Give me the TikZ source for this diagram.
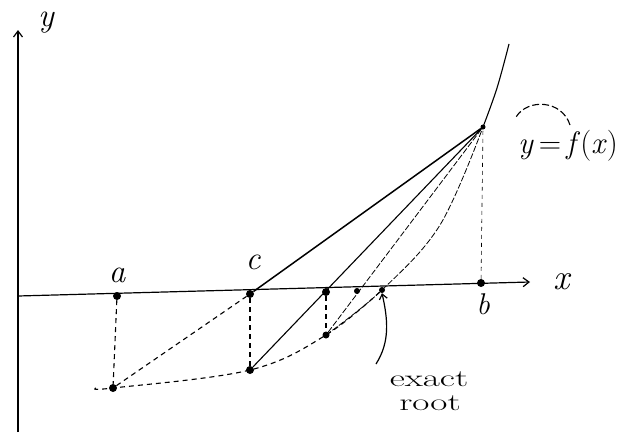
\documentclass[tikz,border=0pt]{standalone}
\usepackage{graphicx}
\usetikzlibrary{arrows.meta}
\begin{document}
\begin{tikzpicture}[x=1pt,y=-1pt,
  dot/.style={circle,fill=black,inner sep=0pt,minimum size=8pt},
  lbl/.style={inner sep=0pt,font=\fontsize{33}{35}\selectfont\itshape},
  small/.style={inner sep=0pt,anchor=base,font=\fontsize{24}{26}\selectfont},
  axis/.style={line width=1.2pt,-{Straight Barb[length=6pt,width=9pt]}},
  guide/.style={line width=1.1pt,dash pattern=on 5pt off 4pt},
  chord/.style={line width=1.1pt},
  thinc/.style={line width=0.8pt,dash pattern=on 6pt off 2pt}]
\useasboundingbox (0,0) rectangle (621,439);
% axes
\coordinate (yb) at (18,432);
\coordinate (yt) at (18,30);
\coordinate (xo) at (18,296);
\coordinate (xe) at (530,282);
\draw[axis] (yb) -- (yt);
\draw[axis] (xo) -- (xe);
\node[lbl,anchor=base] (ylab) at (46,26) {y};
\node[lbl,font=\fontsize{36}{38}\selectfont\itshape] (xlab) at (562,282) {x};
% points on axis
\node[dot] (A) at (117,296) {};
\node[dot] (C) at (250,294) {};
\node[dot] (X2) at (326,292) {};
\node[dot,minimum size=6pt] (X3) at (357,291) {};
\node[dot,minimum size=6pt] (R) at (382,290) {};
\node[dot] (B) at (481,283) {};
\node[lbl] (alab) at (117,275) {a};
\node[lbl] (clab) at (253,262) {c};
\node[lbl,font=\fontsize{30}{32}\selectfont\itshape] (blab) at (483,304) {b};
% points on curve
\node[dot] (Pa) at (113,388) {};
\node[dot] (Pc) at (250,370) {};
\node[dot,minimum size=7pt] (Pd) at (326,335) {};
\node[dot,minimum size=5pt] (Pb) at (483,127) {};
% curve
\draw[guide] plot[smooth,tension=0.6] coordinates {(96,388) (113,388) (250,370) (326,335) (382,290)};
\draw[thinc] plot[smooth,tension=0.6] coordinates {(326,335) (382,290) (440,225) (483,127)};
\draw[line width=1.1pt] plot[smooth,tension=0.6] coordinates {(483,127) (497,88) (509,44)};
% verticals
\draw[guide] (A) -- (Pa);
\draw[guide] (C) -- (Pc);
\draw[guide] (X2) -- (Pd);
\draw[line width=0.6pt,dash pattern=on 4pt off 4pt] (B) -- (Pb);
% chords
\draw[guide] (Pa) -- (C);
\draw[chord,line width=1.5pt] (C) -- (Pb);
\draw[chord] (Pc) -- (Pb);
\draw[thinc] (Pd) -- (Pb);
% exact root
\coordinate (arrS) at (376,364);
\draw[line width=1.2pt,-{Straight Barb[length=5pt,width=8pt]}] (arrS) .. controls (390,342) and (388,320) .. (R.south);
\node[small] (ex) at (429,386) {\scalebox{1.55}[1]{exact}};
\node[small] (ro) at (430,410) {\scalebox{1.55}[1]{root}};
% y = f(x)
\node[lbl,font=\fontsize{31}{33}\selectfont] (flab) at (568,146) {\textit{y}\,=\,\textit{f}(\textit{x})};
\coordinate (fa) at (570,125);
\coordinate (fb) at (516,117);
\draw[line width=1.1pt,dash pattern=on 7pt off 3pt] (fa) .. controls (562,100) and (528,98) .. (fb);
\end{tikzpicture}
\end{document}
